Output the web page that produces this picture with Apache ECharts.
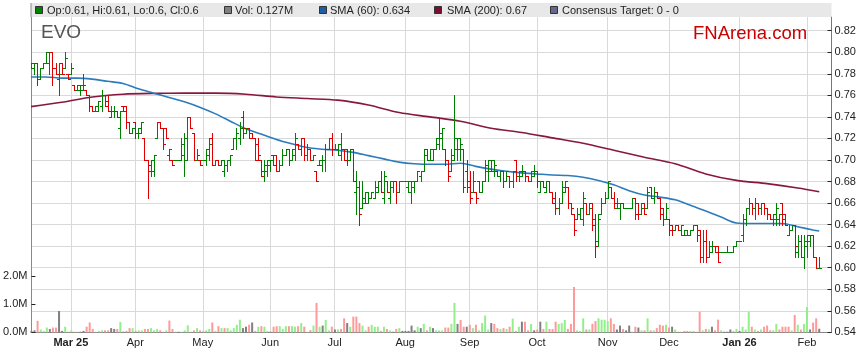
<!DOCTYPE html>
<html><head><meta charset="utf-8">
<script src="https://cdn.jsdelivr.net/npm/echarts@6/dist/echarts.min.js"></script>
<style>html,body{margin:0;padding:0;background:#fff}#c{width:859px;height:363px}</style>
</head><body><div id="c"></div>
<script>
// ---- data ----
const startDate = '2025-02-12';   // first trading slot (weekdays)
const slotCount = 262;            // weekday slots on the axis
const opens = [.785,.785,.79,.775,.785,.79,.79,.80,.785,.775,.79,.785,.78,.78,.77,.765,.765,.765,.765,.76,
.75,.745,.745,.75,.76,.755,.74,.745,.745,.73,.75,.75,.735,.725,.735,.725,.725,.72,.70,.69,
.69,.72,.735,.73,.73,.705,.70,.70,.70,.70,.705,.70,.74,.725,.70,.70,.70,.70,.705,.72,
.695,.70,.695,.69,.695,.70,.71,.72,.72,.74,.725,.73,.725,.72,.715,.70,.69,.69,.695,.705,
.705,.69,.695,.705,.71,.70,.705,.715,.71,.72,.705,.71,.70,.69,.695,.695,.70,.71,.72,.71,
.71,.705,.71,.71,.70,.71,.67,.675,.655,.66,.66,.665,.665,.67,.68,.665,.68,.665,.675,.68,
.67,.68,.68,.675,.67,.675,.68,.685,.69,.71,.70,.70,.71,.715,.72,.71,.70,.69,.70,.71,
.71,.71,.69,.68,.67,.67,.68,.67,.68,.69,.69,.69,.69,.685,.69,.68,.685,.68,.70,.685,
.685,.69,.685,.68,.685,.69,.67,.68,.67,.68,.67,.665,.655,.66,.67,.675,.66,.65,.645,.65,
.645,.66,.65,.66,.645,.625,.65,.66,.665,.675,.665,.655,.655,.66,.655,.655,.655,.665,.66,.65,
.66,.655,.675,.665,.67,.665,.655,.645,.645,.64,.635,.64,.635,.63,.63,.63,.635,.64,.635,.61,
.625,.61,.615,.62,.62,.615,.615,.615,.615,.615,.62,.625,.63,.645,.655,.66,.655,.66,.655,.66,
.655,.65,.645,.645,.645,.66,.65,.63,.635,.64,.615,.625,.61,.62,.625,.63,.61,.60];
const highs = [.79,.79,.79,.785,.79,.80,.80,.80,.79,.79,.79,.80,.78,.79,.77,.77,.77,.78,.765,.76,
.75,.75,.755,.765,.76,.76,.75,.75,.745,.745,.75,.75,.735,.73,.735,.73,.735,.72,.70,.70,
.705,.735,.735,.73,.73,.71,.70,.70,.70,.72,.725,.74,.74,.725,.71,.70,.70,.71,.72,.725,
.70,.70,.70,.70,.70,.705,.72,.73,.735,.745,.73,.73,.725,.72,.72,.70,.70,.70,.70,.705,
.705,.70,.71,.71,.71,.71,.725,.715,.72,.72,.715,.71,.705,.69,.70,.705,.715,.72,.725,.715,
.715,.725,.71,.71,.71,.71,.69,.68,.68,.67,.67,.67,.68,.68,.69,.69,.68,.68,.68,.68,
.68,.68,.68,.68,.68,.68,.69,.69,.71,.71,.71,.71,.72,.74,.73,.71,.70,.71,.76,.72,
.72,.71,.70,.69,.69,.67,.68,.68,.70,.70,.70,.70,.69,.69,.69,.69,.685,.69,.70,.69,
.695,.69,.685,.69,.695,.69,.68,.68,.68,.68,.67,.67,.665,.68,.68,.675,.66,.65,.655,.655,
.67,.66,.66,.66,.65,.65,.665,.67,.68,.675,.67,.665,.66,.66,.655,.655,.665,.665,.66,.66,
.66,.675,.675,.675,.67,.665,.655,.66,.645,.64,.64,.64,.64,.635,.635,.635,.64,.64,.635,.635,
.635,.625,.625,.62,.62,.615,.615,.62,.615,.62,.625,.625,.65,.655,.665,.66,.665,.66,.66,.66,
.655,.65,.65,.66,.65,.66,.65,.64,.64,.64,.63,.63,.63,.63,.63,.63,.61,.61];
const lows = [.785,.78,.77,.775,.785,.79,.78,.77,.78,.76,.78,.785,.775,.78,.765,.765,.76,.765,.76,.745,
.745,.745,.745,.745,.75,.745,.74,.74,.74,.72,.745,.73,.725,.725,.72,.72,.725,.70,.665,.685,
.685,.72,.73,.71,.72,.70,.695,.70,.70,.70,.685,.70,.73,.70,.70,.695,.70,.695,.70,.695,
.695,.695,.695,.685,.69,.695,.71,.71,.715,.72,.725,.72,.72,.70,.70,.685,.68,.685,.69,.695,
.69,.69,.695,.705,.695,.70,.70,.71,.705,.70,.70,.70,.70,.68,.695,.69,.69,.71,.705,.71,
.705,.70,.70,.695,.70,.68,.65,.64,.655,.66,.66,.665,.665,.67,.67,.66,.67,.66,.67,.66,
.67,.68,.68,.67,.66,.67,.68,.68,.69,.70,.70,.70,.71,.71,.71,.695,.68,.69,.70,.70,
.70,.67,.67,.66,.67,.66,.67,.67,.68,.68,.69,.685,.685,.68,.675,.68,.675,.675,.68,.68,
.685,.68,.68,.68,.685,.675,.67,.675,.67,.67,.66,.65,.65,.66,.67,.655,.65,.63,.645,.645,
.64,.65,.65,.635,.61,.62,.65,.66,.665,.665,.655,.655,.645,.655,.655,.655,.655,.645,.645,.65,
.65,.655,.665,.66,.665,.645,.64,.645,.63,.63,.635,.635,.63,.63,.63,.63,.635,.625,.605,.605,
.605,.61,.615,.615,.605,.615,.615,.615,.615,.615,.62,.625,.625,.64,.65,.65,.645,.65,.65,.65,
.645,.645,.64,.64,.64,.64,.64,.63,.635,.61,.61,.61,.60,.61,.62,.61,.60,.60];
const closes = [.79,.79,.775,.785,.79,.80,.80,.785,.78,.78,.78,.795,.775,.785,.765,.77,.77,.77,.76,.75,
.745,.75,.755,.76,.75,.745,.745,.745,.74,.745,.745,.735,.725,.73,.725,.73,.735,.70,.695,.70,
.705,.735,.73,.715,.72,.71,.695,.70,.70,.715,.72,.74,.73,.70,.705,.695,.70,.71,.715,.695,
.70,.695,.70,.695,.70,.705,.72,.725,.73,.73,.73,.72,.72,.70,.705,.685,.695,.70,.70,.695,
.69,.695,.705,.71,.70,.71,.72,.71,.72,.705,.71,.70,.705,.68,.70,.70,.71,.72,.71,.71,
.715,.71,.70,.70,.71,.68,.675,.65,.665,.67,.665,.67,.675,.68,.67,.685,.67,.68,.68,.67,
.68,.68,.68,.68,.68,.68,.69,.69,.705,.70,.71,.71,.72,.725,.73,.70,.685,.705,.72,.72,
.715,.675,.675,.665,.68,.665,.67,.68,.695,.70,.70,.695,.685,.69,.68,.69,.68,.69,.685,.69,
.69,.685,.68,.69,.69,.68,.68,.675,.68,.67,.66,.655,.66,.675,.68,.66,.655,.635,.65,.655,
.665,.65,.655,.64,.62,.645,.66,.665,.68,.665,.66,.66,.66,.655,.655,.655,.665,.65,.65,.655,
.65,.67,.665,.67,.665,.65,.645,.655,.635,.635,.64,.635,.64,.635,.63,.635,.64,.63,.61,.625,
.61,.62,.62,.615,.605,.615,.615,.615,.615,.62,.625,.625,.645,.655,.66,.655,.66,.655,.66,.655,
.65,.645,.65,.655,.65,.645,.64,.635,.64,.62,.625,.61,.625,.63,.63,.61,.60,.60];
const volumesM = [.05,.07,.41,.10,.05,.17,.12,.17,.17,.76,.05,.20,.02,.07,.02,.02,.02,.05,.20,.35,
.12,.02,.05,.07,.07,.07,.15,.12,.12,.37,.02,.05,.15,.15,.05,.07,.07,.12,.12,.15,
.07,.12,.07,.02,.07,.42,.12,.02,.02,.02,.07,.25,.02,.07,.15,.07,.05,.07,.12,.35,
.05,.22,.15,.15,.15,.07,.15,.27,.45,.15,.20,.27,.35,.05,.20,.22,.20,.05,.02,.20,
.22,.22,.12,.22,.22,.22,.20,.22,.33,.20,.02,.08,.24,1.05,.20,.24,.44,.07,.20,.10,
.10,.12,.50,.33,.20,.56,.56,.33,.24,.07,.20,.27,.20,.20,.05,.20,.12,.07,.02,.12,
.15,.05,.05,.05,.24,.07,.20,.15,.30,.07,.20,.15,.07,.07,.07,.17,.17,.30,1.05,.30,
.44,.20,.20,.27,.15,.27,.07,.33,.60,.10,.33,.30,.15,.12,.15,.12,.20,.49,.05,.20,
.38,.38,.07,.30,.07,.10,.38,.12,.38,.12,.12,.38,.30,.33,.44,.12,.30,1.62,.07,.05,
.50,.10,.10,.30,.40,.50,.45,.45,.40,.50,.30,.10,.24,.12,.07,.24,.02,.20,.17,.07,
.07,.50,.07,.07,.15,.27,.24,.27,.17,.20,.10,.02,.02,.05,.05,.05,.05,.02,.73,.07,
.12,.10,.20,.07,.45,.07,.02,.02,.10,.05,.12,.05,.20,.10,.73,.20,.10,.05,.10,.20,
.24,.07,.07,.30,.10,.20,.20,.20,.07,.62,.27,.10,.30,.90,.10,.35,.50,.127];
// moving averages at sample slots
const smaSlots60 = [0,5,10,15,20,25,30,35,40,45,50,55,60,65,70,75,80,85,90,95,100,105,110,115,120,125,130,135,140,145,150,155,160,165,170,175,180,185,190,195,200,205,210,215,220,225,230,235,240,245,250,255,257];
const sma60 = [.777,.777,.776,.776,.775,.773,.771,.766,.762,.758,.754,.749,.743,.736,.729,.724,.719,.715,.7115,.710,.709,.707,.704,.701,.698,.6965,.696,.696,.697,.694,.6915,.6895,.688,.687,.686,.6855,.684,.681,.677,.6715,.6675,.6655,.663,.658,.6525,.647,.6415,.641,.641,.641,.638,.635,.634];
const smaSlots200 = [0,10,20,30,40,50,60,70,80,90,100,110,120,130,140,150,160,170,180,190,200,210,220,230,240,250,257];
const sma200 = [.7495,.7535,.7585,.761,.7618,.762,.762,.761,.7585,.757,.7555,.751,.744,.740,.736,.7295,.7255,.7205,.7155,.709,.7025,.6965,.687,.681,.678,.674,.6705];
const priceTicks = {min: 0.54, step: 0.02};
const legendTexts = ['Op:0.61, Hi:0.61, Lo:0.6, Cl:0.6','Vol: 0.127M','SMA (60): 0.634','SMA (200): 0.67','Consensus Target: 0 - 0'];

// ---- build ----
const MON = ['Jan','Feb','Mar','Apr','May','Jun','Jul','Aug','Sep','Oct','Nov','Dec'];
const dates = [];
{ let d = new Date(startDate + 'T00:00:00Z');
  while (dates.length < slotCount) {
    const w = d.getUTCDay();
    if (w !== 0 && w !== 6) dates.push(d.toISOString().slice(0,10));
    d = new Date(d.getTime() + 86400000);
  } }
const monthStart = dates.map((s,i) => i > 0 && s.slice(5,7) !== dates[i-1].slice(5,7));
let firstLabel = monthStart.indexOf(true);

const ohlc = opens.map((o,i) => [i, o, highs[i], lows[i], closes[i]]);
const vols = volumesM.map((v,i) => {
  const prev = i > 0 ? closes[i-1] : closes[i];
  const c = closes[i] > prev + 1e-9 ? '#94ee8c' : (closes[i] < prev - 1e-9 ? '#ff9a9a' : '#808080');
  return {value: [i, v], itemStyle: {color: c}};
});
const FONT = '"Liberation Sans", Arial, sans-serif';

const chart = echarts.init(document.getElementById('c'), null, {renderer: 'canvas'});
const legendX = [[35, 47], [224, 235], [319, 330], [434, 447], [550, 562]];
const legendCol = ['#008000', '#808080', '#1f5f9f', '#7a1030', '#66668f'];
const graphics = [
  {type: 'rect', shape: {x: 31, y: 3, width: 800.5, height: 14}, style: {fill: '#e8e8e8'}, z: 1},
  {type: 'line', shape: {x1: 31, y1: 3, x2: 31, y2: 17}, style: {stroke: '#888', lineWidth: 1}, z: 2},
  {type: 'text', x: 41, y: 33, style: {text: 'EVO', fill: '#555', font: '19px ' + FONT, textVerticalAlign: 'middle'}, z: 5},
  {type: 'text', x: 693, y: 33.5, style: {text: 'FNArena.com', fill: '#cc0000', font: '18.5px ' + FONT, textVerticalAlign: 'middle'}, z: 5}
];
legendTexts.forEach((t, k) => {
  graphics.push({type: 'rect', shape: {x: legendX[k][0] + 0.5, y: 6.5, width: 7, height: 7}, style: {fill: legendCol[k], stroke: '#333', lineWidth: 1}, z: 3});
  graphics.push({type: 'text', x: legendX[k][1], y: 10.5, style: {text: t, fill: '#222', font: '11px ' + FONT, textVerticalAlign: 'middle'}, z: 3});
});

chart.setOption({
  animation: false,
  backgroundColor: '#fff',
  graphic: graphics,
  grid: [
    {left: 31, right: 27.5, top: 17, bottom: 30.7},
    {left: 31, right: 27.5, top: 276.3, bottom: 30.7}
  ],
  xAxis: [
    {type: 'category', gridIndex: 0, data: dates, boundaryGap: false,
     axisLine: {show: true, lineStyle: {color: '#888', width: 1}},
     axisTick: {show: false},
     axisLabel: {show: true, interval: (i) => monthStart[i], margin: 5, fontSize: 11, color: '#222', fontFamily: FONT,
       formatter: (v, i) => {
         const m = +v.slice(5,7) - 1; const y = v.slice(2,4);
         if (m === 0 || i === firstLabel) return '{b|' + MON[m] + ' ' + y + '}';
         return MON[m];
       },
       rich: {b: {fontWeight: 'bold', fontSize: 11, color: '#222', fontFamily: FONT}}},
     splitLine: {show: true, interval: (i) => monthStart[i], lineStyle: {color: '#d9d9d9', width: 1}}},
    {type: 'category', gridIndex: 1, data: dates, boundaryGap: false, show: false}
  ],
  yAxis: [
    {type: 'value', gridIndex: 0, position: 'right', min: priceTicks.min, max: 0.8327, interval: priceTicks.step,
     axisLine: {show: true, lineStyle: {color: '#777', width: 1}},
     axisTick: {show: true, inside: true, length: 4, lineStyle: {color: '#222'}},
     axisLabel: {margin: 3, fontSize: 11, color: '#222', fontFamily: FONT, showMaxLabel: false,
       formatter: (v) => v > 0.825 ? '' : v.toFixed(2)},
     splitLine: {show: true, showMaxLine: false, lineStyle: {color: '#d9d9d9', width: 1}}},
    {type: 'value', gridIndex: 0, position: 'left', min: 0, max: 1,
     axisLine: {show: true, lineStyle: {color: '#888', width: 1}},
     axisTick: {show: false}, axisLabel: {show: false}, splitLine: {show: false}},
    {type: 'value', gridIndex: 1, position: 'left', min: 0, max: 2, interval: 1,
     axisLine: {show: false},
     axisTick: {show: true, inside: true, length: 4, lineStyle: {color: '#222'}},
     axisLabel: {margin: 4, fontSize: 11, color: '#222', fontFamily: FONT, formatter: (v) => v.toFixed(1) + 'M'},
     splitLine: {show: false}}
  ],
  series: [
    {type: 'bar', xAxisIndex: 1, yAxisIndex: 2, data: vols, barWidth: 2, z: 2},
    {type: 'line', xAxisIndex: 0, yAxisIndex: 0, data: smaSlots200.map((s,k) => [s, sma200[k]]),
     smooth: 0.3, showSymbol: false, symbol: 'none', lineStyle: {color: '#86183f', width: 1.6}, z: 3},
    {type: 'line', xAxisIndex: 0, yAxisIndex: 0, data: smaSlots60.map((s,k) => [s, sma60[k]]),
     smooth: 0.3, showSymbol: false, symbol: 'none', lineStyle: {color: '#2b7bbd', width: 1.6}, z: 3},
    {type: 'custom', xAxisIndex: 0, yAxisIndex: 0, data: ohlc, encode: {x: 0, y: [1,2,3,4]}, clip: true, z: 4,
     renderItem: (params, api) => {
       const i = api.value(0), o = api.value(1), h = api.value(2), l = api.value(3), c = api.value(4);
       const pH = api.coord([i, h]), pL = api.coord([i, l]), pO = api.coord([i, o]), pC = api.coord([i, c]);
       const x = Math.round(pH[0]) + 0.5;
       const yo = Math.round(pO[1]) + 0.5, yc = Math.round(pC[1]) + 0.5;
       const col = c >= o ? '#008000' : '#dd0000';
       const t = 2.5;
       return {type: 'group', children: [
         {type: 'line', shape: {x1: x, y1: Math.round(pH[1]), x2: x, y2: Math.round(pL[1]) + 1}, style: {stroke: col, lineWidth: 1}},
         {type: 'line', shape: {x1: x - t, y1: yo, x2: x, y2: yo}, style: {stroke: col, lineWidth: 1}},
         {type: 'line', shape: {x1: x, y1: yc, x2: x + t, y2: yc}, style: {stroke: col, lineWidth: 1}}
       ]};
     }}
  ]
});
</script></body></html>
